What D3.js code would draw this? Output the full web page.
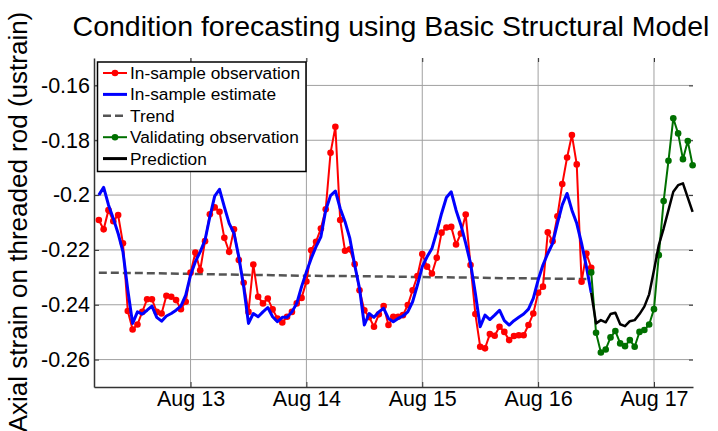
<!DOCTYPE html>
<html>
<head>
<meta charset="utf-8">
<script src="https://cdn.jsdelivr.net/npm/d3@7"></script>
<style>
  body { margin: 0; background: #fff; }
  svg { font-family: "Liberation Sans", Arial, Helvetica, sans-serif; }
</style>
</head>
<body>
<div id="chart"></div>
<script>
// hourly samples, first one at Aug 12 05:00
const obsStart = "2014-08-12T05:00:00"
const inSampleObs = [
  -0.2091, -0.2125, -0.2055, -0.2095, -0.2073, -0.2176, -0.2423, -0.2490, -0.2472, -0.2426,
  -0.2380, -0.2380, -0.2426, -0.2432, -0.2367, -0.2371, -0.2383, -0.2416, -0.2389, -0.2283,
  -0.2210, -0.2274, -0.2168, -0.2070, -0.2045, -0.2061, -0.2156, -0.2207, -0.2125, -0.2237,
  -0.2320, -0.2426, -0.2253, -0.2371, -0.2395, -0.2377, -0.2417, -0.2450, -0.2465, -0.2444,
  -0.2426, -0.2395, -0.2375, -0.2315, -0.2201, -0.2170, -0.2122, -0.2052, -0.1846, -0.1751,
  -0.2091, -0.2203, -0.2198, -0.2252, -0.2347, -0.2420, -0.2445, -0.2480, -0.2435, -0.2405,
  -0.2474, -0.2444, -0.2444, -0.2438, -0.2401, -0.2347, -0.2295, -0.2215, -0.2261, -0.2286,
  -0.2229, -0.2137, -0.2118, -0.2116, -0.2180, -0.2140, -0.2071, -0.2255, -0.2434, -0.2553,
  -0.2559, -0.2507, -0.2513, -0.2480, -0.2499, -0.2529, -0.2514, -0.2511, -0.2511, -0.2474,
  -0.2432, -0.2356, -0.2334, -0.2136, -0.2168, -0.2077, -0.1960, -0.1863, -0.1781, -0.1888,
  -0.2316, -0.2213, -0.2265
]
const inSampleEst = [
  -0.2000, -0.1972, -0.2036, -0.2085, -0.2140, -0.2207, -0.2346, -0.2468, -0.2426, -0.2434,
  -0.2420, -0.2405, -0.2446, -0.2460, -0.2441, -0.2432, -0.2420, -0.2405, -0.2365, -0.2292,
  -0.2243, -0.2207, -0.2164, -0.2079, -0.2004, -0.1979, -0.2043, -0.2103, -0.2140, -0.2225,
  -0.2334, -0.2468, -0.2432, -0.2444, -0.2426, -0.2410, -0.2444, -0.2462, -0.2446, -0.2446,
  -0.2426, -0.2395, -0.2334, -0.2280, -0.2231, -0.2188, -0.2152, -0.2055, -0.2002, -0.1985,
  -0.2049, -0.2097, -0.2158, -0.2255, -0.2340, -0.2474, -0.2432, -0.2446, -0.2426, -0.2413,
  -0.2450, -0.2462, -0.2450, -0.2441, -0.2426, -0.2389, -0.2328, -0.2261, -0.2225, -0.2195,
  -0.2134, -0.2067, -0.2009, -0.1988, -0.2055, -0.2109, -0.2176, -0.2249, -0.2359, -0.2480,
  -0.2438, -0.2454, -0.2438, -0.2420, -0.2458, -0.2474, -0.2458, -0.2446, -0.2434, -0.2416,
  -0.2377, -0.2310, -0.2255, -0.2213, -0.2176, -0.2103, -0.2036, -0.1994, -0.2055, -0.2103,
  -0.2176, -0.2261, -0.2356
]
// validation + forecast start at Aug 16 11:00
const validStart = "2014-08-16T11:00:00"
const validObs = [
  -0.2282, -0.2502, -0.2574, -0.2563, -0.2519, -0.2496, -0.2541, -0.2551, -0.2529, -0.2553,
  -0.2499, -0.2492, -0.2472, -0.2416, -0.2219, -0.2022, -0.1875, -0.1720, -0.1775, -0.1869,
  -0.1803, -0.1891
]
const prediction = [
  -0.2356, -0.2468, -0.2456, -0.2464, -0.2434, -0.2429, -0.2471, -0.2478, -0.2460, -0.2456,
  -0.2434, -0.2407, -0.2362, -0.2274, -0.2182, -0.2122, -0.2055, -0.1988, -0.1964, -0.1957,
  -0.2009, -0.2061
]
// trend level, read every 6 h
const trendTimes = [
  "2014-08-12T05:00:00", "2014-08-12T11:00:00", "2014-08-12T17:00:00", "2014-08-12T23:00:00",
  "2014-08-13T05:00:00", "2014-08-13T11:00:00", "2014-08-13T17:00:00", "2014-08-13T23:00:00",
  "2014-08-14T05:00:00", "2014-08-14T11:00:00", "2014-08-14T17:00:00", "2014-08-14T23:00:00",
  "2014-08-15T05:00:00", "2014-08-15T11:00:00", "2014-08-15T17:00:00", "2014-08-15T23:00:00",
  "2014-08-16T05:00:00", "2014-08-16T10:00:00"
]
const trend = [
  -0.2283, -0.2284, -0.2285, -0.2287, -0.2289, -0.2291, -0.2292, -0.2294, -0.2295,
  -0.2296, -0.2297, -0.2299, -0.2300, -0.2301, -0.2303, -0.2304, -0.2305, -0.2306
]
const xTicks = ["2014-08-13", "2014-08-14", "2014-08-15", "2014-08-16", "2014-08-17"]
const xTickLabels = ["Aug 13", "Aug 14", "Aug 15", "Aug 16", "Aug 17"]
const yTicks = [-0.26, -0.24, -0.22, -0.2, -0.18, -0.16]
const legendLabels = ["In-sample observation", "In-sample estimate", "Trend", "Validating observation", "Prediction"]

const width = 718, height = 431
const margin = { top: 58, right: 25, bottom: 44, left: 94 }
const colors = { obs: "#ff0000", est: "#0000ff", trend: "#555555", valid: "#007000", pred: "#000000" }

const parse = d3.isoParse
const hourly = (start, values) => values.map((v, i) => ({ t: d3.timeHour.offset(parse(start), i), v: v }))

const obsData = hourly(obsStart, inSampleObs)
const estData = hourly(obsStart, inSampleEst)
const validData = hourly(validStart, validObs)
const predData = hourly(validStart, prediction)
const trendData = trendTimes.map((t, i) => ({ t: parse(t), v: trend[i] }))

const x = d3.scaleTime()
  .domain([parse("2014-08-12T04:00:00"), parse("2014-08-17T08:05:00")])
  .range([margin.left, width - margin.right])
const y = d3.scaleLinear()
  .domain([-0.27, -0.15])
  .range([height - margin.bottom, margin.top])

const svg = d3.select("#chart").append("svg")
  .attr("width", width)
  .attr("height", height)

// grid
svg.append("g").selectAll("line")
  .data(yTicks).enter().append("line")
  .attr("x1", margin.left).attr("x2", width - margin.right)
  .attr("y1", d => y(d)).attr("y2", d => y(d))
  .attr("stroke", "#a0a0a0").attr("stroke-width", 1)
svg.append("g").selectAll("line")
  .data(xTicks).enter().append("line")
  .attr("x1", d => x(parse(d))).attr("x2", d => x(parse(d)))
  .attr("y1", margin.top).attr("y2", height - margin.bottom)
  .attr("stroke", "#a0a0a0").attr("stroke-width", 1)

// axes (MATLAB style: inward ticks, mirrored on top/right)
const xAxis = d3.axisBottom(x)
  .tickValues(xTicks.map(parse))
  .tickFormat((d, i) => xTickLabels[i])
  .tickSizeInner(-5).tickSizeOuter(0).tickPadding(4)
const yAxis = d3.axisLeft(y)
  .tickValues(yTicks)
  .tickSizeInner(-5).tickSizeOuter(0).tickPadding(4)

const gx = svg.append("g")
  .attr("transform", `translate(0,${height - margin.bottom})`)
  .call(xAxis)
const gy = svg.append("g")
  .attr("transform", `translate(${margin.left},0)`)
  .call(yAxis)
for (const g of [gx, gy]) {
  g.select(".domain").attr("stroke", "#333").attr("stroke-width", 1.5)
  g.selectAll(".tick line").attr("stroke", "#333")
  g.selectAll(".tick text").attr("fill", "#000")
    .style("font-size", "21.5px")
    .style("font-family", "'Liberation Sans', Arial, sans-serif")
}
gy.selectAll(".tick text").text(d => d === -0.2 ? "-0.2" : d.toFixed(2))

svg.append("g").attr("transform", `translate(0,${margin.top})`)
  .call(d3.axisTop(x).tickValues(xTicks.map(parse)).tickFormat("").tickSizeInner(-4).tickSizeOuter(0))
  .call(g => g.select(".domain").remove())
  .call(g => g.selectAll(".tick line").attr("stroke", "#333"))
svg.append("g").attr("transform", `translate(${width - margin.right},0)`)
  .call(d3.axisRight(y).tickValues(yTicks).tickFormat("").tickSizeInner(-4).tickSizeOuter(0))
  .call(g => g.select(".domain").remove())
  .call(g => g.selectAll(".tick line").attr("stroke", "#333"))

const line = d3.line().x(d => x(d.t)).y(d => y(d.v))

const plot = svg.append("g")

plot.append("path").datum(trendData)
  .attr("d", line).attr("fill", "none")
  .attr("stroke", colors.trend).attr("stroke-width", 2.5)
  .attr("stroke-dasharray", "8,4")

plot.append("path").datum(obsData)
  .attr("d", line).attr("fill", "none")
  .attr("stroke", colors.obs).attr("stroke-width", 2)
plot.append("g").selectAll("circle")
  .data(obsData).enter().append("circle")
  .attr("cx", d => x(d.t)).attr("cy", d => y(d.v)).attr("r", 3.3)
  .attr("fill", colors.obs)

plot.append("path").datum(estData)
  .attr("d", line).attr("fill", "none")
  .attr("stroke", colors.est).attr("stroke-width", 3)
  .attr("stroke-linejoin", "round")

plot.append("path").datum(validData)
  .attr("d", line).attr("fill", "none")
  .attr("stroke", colors.valid).attr("stroke-width", 2)
plot.append("g").selectAll("circle")
  .data(validData).enter().append("circle")
  .attr("cx", d => x(d.t)).attr("cy", d => y(d.v)).attr("r", 3.3)
  .attr("fill", colors.valid)

plot.append("path").datum(predData)
  .attr("d", line).attr("fill", "none")
  .attr("stroke", colors.pred).attr("stroke-width", 2.5)
  .attr("stroke-linejoin", "round")

// legend
const legendStyle = [
  { color: colors.obs, marker: true, dash: null, w: 2 },
  { color: colors.est, marker: false, dash: null, w: 3 },
  { color: colors.trend, marker: false, dash: "8,4", w: 2.5 },
  { color: colors.valid, marker: true, dash: null, w: 2 },
  { color: colors.pred, marker: false, dash: null, w: 3 }
]
const legend = svg.append("g").attr("transform", "translate(97.5,62)")
legend.append("rect")
  .attr("width", 208.5).attr("height", 109.5)
  .attr("fill", "#fff").attr("stroke", "#000").attr("stroke-width", 1.5)
const item = legend.selectAll("g.item")
  .data(legendLabels).enter().append("g")
  .attr("class", "item")
  .attr("transform", (d, i) => `translate(0,${11 + i * 21.4})`)
item.append("line")
  .attr("x1", 5.5).attr("x2", 29.5)
  .attr("stroke", (d, i) => legendStyle[i].color)
  .attr("stroke-width", (d, i) => legendStyle[i].w)
  .attr("stroke-dasharray", (d, i) => legendStyle[i].dash)
item.filter((d, i) => legendStyle[i].marker).append("circle")
  .attr("cx", 17.5).attr("r", 3.3)
  .attr("fill", d => legendStyle[legendLabels.indexOf(d)].color)
item.append("text")
  .attr("x", 32.5).attr("dy", "0.35em")
  .style("font-size", "17.3px")
  .text(d => d)

// title and y label
svg.append("text")
  .attr("x", 391).attr("y", 36)
  .attr("text-anchor", "middle")
  .style("font-size", "28.5px")
  .text("Condition forecasting using Basic Structural Model")
svg.append("text")
  .attr("transform", "translate(27,222) rotate(-90)")
  .attr("text-anchor", "middle")
  .style("font-size", "26px")
  .text("Axial strain on threaded rod (ustrain)")
</script>
</body>
</html>
